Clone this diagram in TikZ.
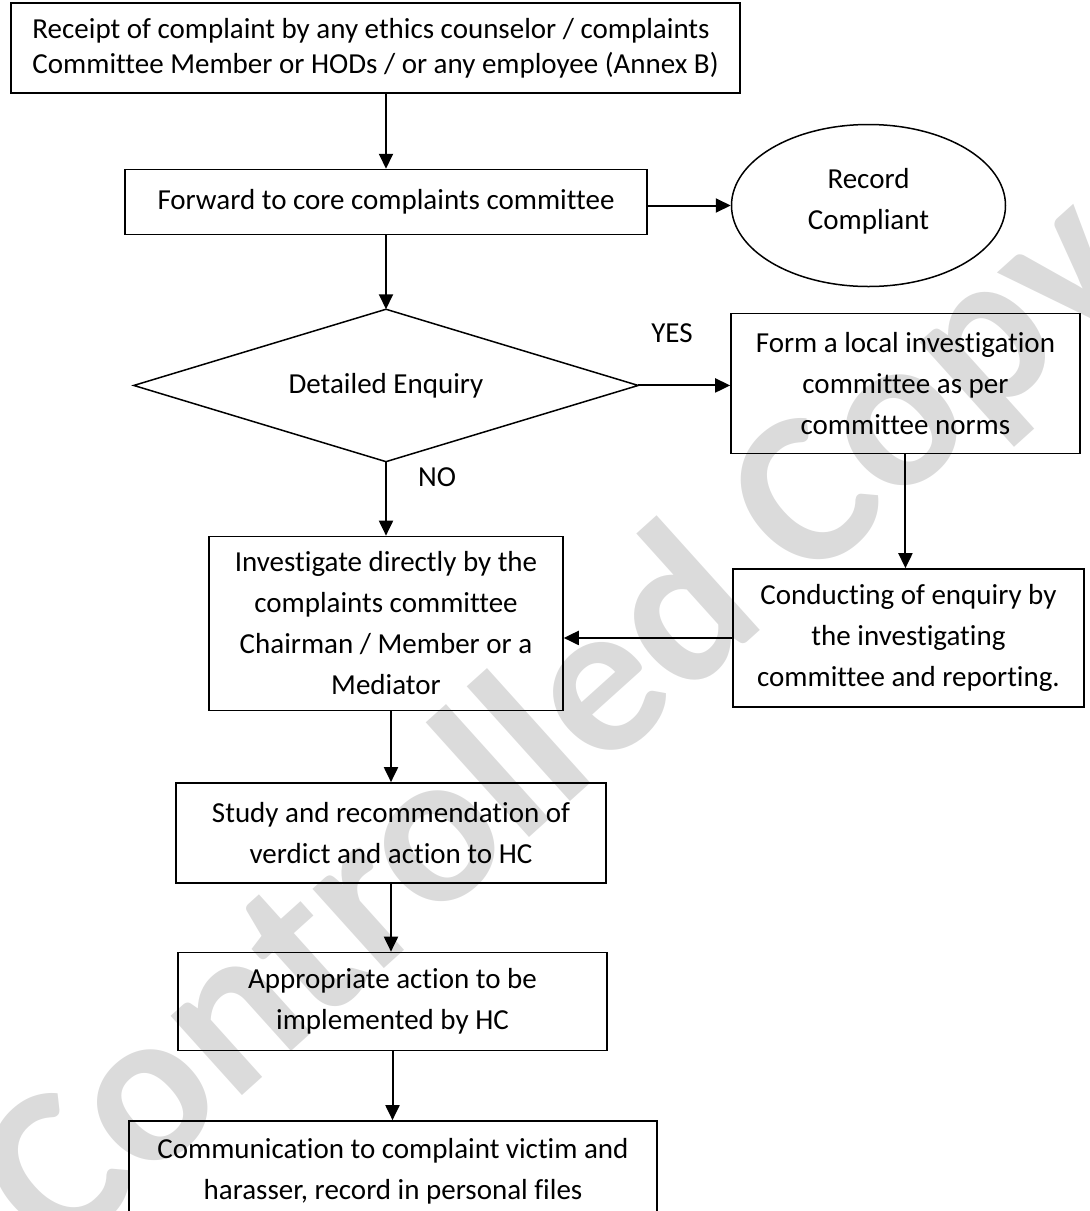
\documentclass[tikz,border=0pt]{standalone}
\usepackage{fontspec}
\setmainfont{Carlito}[Ligatures=NoCommon]
\usepackage{tikz}
\usetikzlibrary{arrows.meta, positioning, shapes.geometric}

\begin{document}
\begin{tikzpicture}[x=1pt, y=-1pt, font=\fontsize{29}{41}\selectfont,
        box/.style={draw, line width=1.5pt, align=center, inner sep=0pt},
        oval/.style={draw, ellipse, line width=1.5pt, align=center, inner sep=0pt,
                     minimum width=274pt, minimum height=162pt},
        decision/.style={inner sep=0pt, minimum width=504pt, minimum height=152pt},
        flow/.style={-{Triangle[length=15pt, width=14pt]}, line width=2pt},
        tag/.style={inner sep=0pt}]
      \useasboundingbox (0,0) rectangle (1090,1211);
      % watermark behind everything
      \node[text=black!14, rotate=42, font=\fontsize{220}{220}\bfseries\selectfont]
        (mark) at (562,728) {Controlled Copy};
      \node[box, minimum width=729pt, minimum height=90pt, align=left,
            font=\fontsize{29}{35}\selectfont] (recv) at (375.5,48)
        {Receipt of complaint by any ethics counselor / complaints\\
         Committee Member or HODs / or any employee (Annex B)};
      \node[box, minimum width=522pt, minimum height=65pt, below=75pt of recv, xshift=10.5pt]
        (fwd) {Forward to core complaints committee};
      \node[oval, right=83pt of fwd, yshift=-3.5pt] (rec)
        {Record\\Compliant\rule[-14pt]{0pt}{14pt}};
      \node[decision, below=74pt of fwd] (enq) {Detailed Enquiry};
      \draw[line width=1.5pt] (enq.west) -- (enq.north) -- (enq.east) -- (enq.south) -- cycle;
      \node[box, minimum width=349pt, minimum height=140pt, right=92pt of enq, yshift=2pt]
        (local) {Form a local investigation\\committee as per\\committee norms};
      \node[box, minimum width=354pt, minimum height=174pt, below=74pt of enq]
        (direct) {Investigate directly by the\\complaints committee\\Chairman / Member or a\\Mediator};
      \node[box, minimum width=351pt, minimum height=138pt, below=114pt of local, xshift=3pt]
        (report) {Conducting of enquiry by\\the investigating\\committee and reporting.};
      \node[box, minimum width=430pt, minimum height=100pt, below=71pt of direct, xshift=5pt]
        (study) {Study and recommendation of\\verdict and action to HC};
      \node[box, minimum width=429pt, minimum height=98pt, below=68pt of study, xshift=1.5pt]
        (impl) {Appropriate action to be\\implemented by HC};
      \node[box, minimum width=528pt, minimum height=100pt, below=69pt of impl, xshift=0.5pt]
        (comm) {Communication to complaint victim and\\harasser, record in personal files};
      \node[tag] (yes) at (672,333) {YES};
      \node[tag] (no) at (437,477) {NO};
      \draw[flow] (recv.south -| fwd.north) -- (fwd.north);
      \draw[flow] (fwd.east |- rec.west) -- (rec.west);
      \draw[flow] (fwd) -- (enq.north);
      \draw[flow] (enq.east) -- (enq.east -| local.west);
      \draw[flow] (enq.south) -- (direct);
      \draw[flow] (local.south) -- (local.south |- report.north);
      \draw[flow] (report.west) -- (report.west -| direct.east);
      \draw[flow] (direct.south -| study.north) -- (study.north);
      \draw[flow] (study.south) -- (study.south |- impl.north);
      \draw[flow] (impl.south) -- (impl.south |- comm.north);
    \end{tikzpicture}
\end{document}
